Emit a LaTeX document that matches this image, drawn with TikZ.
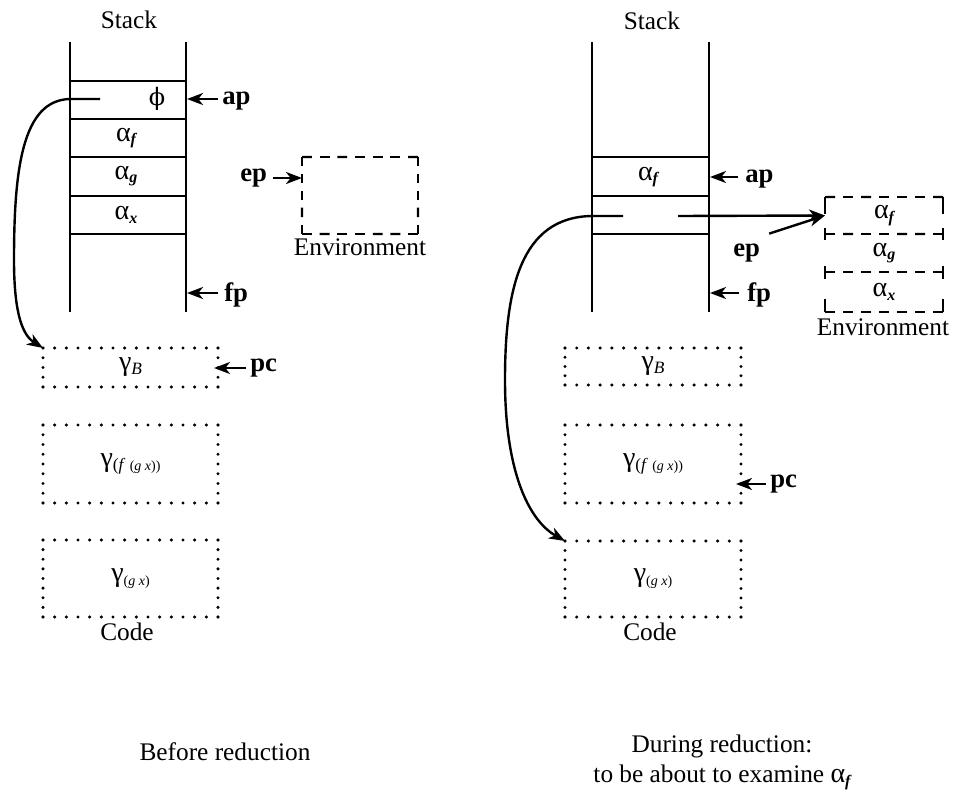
\documentclass[tikz,border=0pt]{standalone}
\usepackage{fontspec}
\setmainfont{Liberation Serif}
\newfontfamily\dvs{DejaVu Serif}
\usetikzlibrary{arrows.meta,calc}
\newcommand\sbi[1]{{\fontsize{12}{12}\selectfont\raisebox{-2.5pt}{\bfseries\itshape #1}}}
\newcommand\gsub[1]{{\fontsize{13}{13}\selectfont\raisebox{-3pt}{#1}}}
\newcommand\tinyf[1]{{\fontsize{10.5}{10.5}\selectfont #1}}
\newcommand\dotline[3]{\foreach \k in {0,...,#3}{\fill ($(#1)!{\k/#3}!(#2)$) circle[radius=1.3pt];}}
\newcommand\dotbox[3]{%
  \dotline{#1.north west}{#1.north east}{#2}
  \dotline{#1.south west}{#1.south east}{#2}
  \dotline{#1.north west}{#1.south west}{#3}
  \dotline{#1.north east}{#1.south east}{#3}}
\newcommand\dashline[3]{\foreach \k in {1,...,#3}{\draw[envline] ($(#1)!{(\k-1)*1.8/(1.8*#3-0.8)}!(#2)$) -- ($(#1)!{((\k-1)*1.8+1)/(1.8*#3-0.8)}!(#2)$);}}
\newcommand\alp{{\fontsize{21}{21}\selectfont α}}
\newcommand\gam{{\fontsize{21}{21}\selectfont γ}}
\begin{document}
\begin{tikzpicture}[x=0.75pt,y=-0.75pt,
  stk/.style={line width=1.7pt},
  envline/.style={line width=1.8pt},
  ptr/.style={line width=1.8pt,-{Stealth[length=12pt,width=9pt,inset=3.5pt]}},
  title/.style={font=\fontsize{19}{23}\selectfont,inner sep=0pt},
  reg/.style={font=\fontsize{20}{23}\selectfont\bfseries,inner sep=0pt,anchor=west},
  cellf/.style={font=\fontsize{17}{20}\selectfont,inner sep=0pt},
  gam/.style={font=\fontsize{16}{20}\selectfont,inner sep=0pt,outer sep=0pt},
  box/.style={inner sep=0pt,outer sep=0pt}]
\useasboundingbox (0,0) rectangle (958,796);

% ---------------- LEFT: before reduction ----------------
\node[title] (stackL) at (129,20) {Stack};
\draw[stk] (70,42) -- (70,312) (186,42) -- (186,312);
\foreach \y in {81,119,157,196,234} \draw[stk] (70,\y) -- (186,\y);
\node[cellf] (phiL) at (157,99) {{\dvs\fontsize{18}{18}\selectfont ϕ}};
\node[cellf] (afL) at (126,138) {\alp\sbi{f}};
\node[cellf] (agL) at (126,176) {\alp\sbi{g}};
\node[cellf] (axL) at (126,215) {\alp\sbi{x}};

\node[reg] (apL) at (222,101) {ap};
\coordinate (apLt) at (187,99);
\draw[ptr] (apLt -| apL.west) ++(-4,0) -- (apLt);
\node[reg] (fpL) at (224,295) {fp};
\coordinate (fpLt) at (187,293);
\draw[ptr] (fpLt -| fpL.west) ++(-6,0) -- (fpLt);

\node[box,minimum width=87pt,minimum height=57.75pt] (envL) at (360,195.5) {};
\dashline{envL.north west}{envL.north east}{7}
\dashline{envL.south west}{envL.south east}{7}
\dashline{envL.north west}{envL.south west}{5}
\dashline{envL.north east}{envL.south east}{5}
\node[title] (envLl) at (360,247) {Environment};
\node[reg] (epL) at (240,178) {ep};
\coordinate (epLt) at (302,178);
\draw[ptr] (epL.east) ++(6,0) -- (epLt);

\node[box,gam,minimum width=131.25pt,minimum height=29.25pt] (cBL) at (130.5,367.5) {\gam\gsub{\itshape B}};
\node[box,gam,minimum width=131.25pt,minimum height=58.5pt] (cFL) at (130.5,464) {\gam\gsub{(\textit{f} \tinyf{(\textit{g x}))}}};
\node[box,gam,minimum width=131.25pt,minimum height=57.75pt] (cGL) at (130.5,578.5) {\gam\gsub{\tinyf{(\textit{g x})}}};
\dotbox{cBL}{15}{4}
\dotbox{cFL}{15}{8}
\dotbox{cGL}{15}{8}
\node[title] (codeL) at (127,632) {Code};
\node[reg] (pcL) at (250,368) {pc};
\coordinate (pcLt) at (214,368);
\draw[ptr] (pcL.west) ++(-4,0) -- (pcLt);

\coordinate (ptrL) at (100,99);
\draw[ptr] (ptrL) -- (70,99) .. controls (22,100) and (14,170) .. (14,260) .. controls (14,318) and (24,336) .. (cBL.north west);

\node[title] (capL) at (225,752) {Before reduction};

% ---------------- RIGHT: during reduction ----------------
\node[title] (stackR) at (652,21) {Stack};
\draw[stk] (592,42) -- (592,312) (709,42) -- (709,312);
\foreach \y in {157,196,234} \draw[stk] (592,\y) -- (709,\y);
\node[cellf] (afR) at (648,177) {\alp\sbi{f}};
\node[reg] (apR) at (745,179) {ap};
\coordinate (apRt) at (710,177);
\draw[ptr] (apRt -| apR.west) ++(-7,0) -- (apRt);
\node[reg] (fpR) at (747,295) {fp};
\coordinate (fpRt) at (710,293);
\draw[ptr] (fpRt -| fpR.west) ++(-8,0) -- (fpRt);

\node[box,cellf,minimum width=88.5pt,minimum height=27.75pt] (envA) at (884,215.5) {\alp\sbi{f}};
\node[box,cellf,minimum width=88.5pt,minimum height=28.5pt] (envB) at (884,253) {\alp\sbi{g}};
\node[box,cellf,minimum width=88.5pt,minimum height=30pt] (envC) at (884,292) {\alp\sbi{x}};
\dashline{envA.north west}{envA.north east}{7}
\dashline{envB.north west}{envB.north east}{7}
\dashline{envC.north west}{envC.north east}{7}
\dashline{envC.south west}{envC.south east}{7}
\foreach \xx in {825,943}{
  \foreach \ya/\yb in {197/214,228/240,266/279,299/312}
    \draw[envline] (\xx,\ya) -- (\xx,\yb);
}
\node[title] (envRl) at (883,327) {Environment};

\coordinate (ptrR1) at (623,216);
\coordinate (ptrR2) at (678,216);
\draw[ptr] (ptrR2) -- (envA.west);
\node[reg] (epR) at (733,253) {ep};
\draw[ptr] (epR.north east) ++(9,-10) -- (envA.west);

\node[box,gam,minimum width=132pt,minimum height=27.75pt] (cBR) at (653,366.5) {\gam\gsub{\itshape B}};
\node[box,gam,minimum width=132pt,minimum height=58.5pt] (cFR) at (653,464) {\gam\gsub{(\textit{f} \tinyf{(\textit{g x}))}}};
\node[box,gam,minimum width=132pt,minimum height=57pt] (cGR) at (653,579) {\gam\gsub{\tinyf{(\textit{g x})}}};
\dotbox{cBR}{15}{4}
\dotbox{cFR}{15}{8}
\dotbox{cGR}{15}{8}
\node[title] (codeR) at (650,632) {Code};
\node[reg] (pcR) at (770,484) {pc};
\coordinate (pcRt) at (736,484);
\draw[ptr] (pcR.west) ++(-4,0) -- (pcRt);

\draw[ptr] (ptrR1) -- (592,216) .. controls (520,217) and (505,290) .. (505,380) .. controls (505,470) and (528,520) .. (cGR.north west);

\node[title,align=center] (capR) at (722,762) {During reduction:\\to be about to examine \alp\sbi{f}};
\end{tikzpicture}
\end{document}
